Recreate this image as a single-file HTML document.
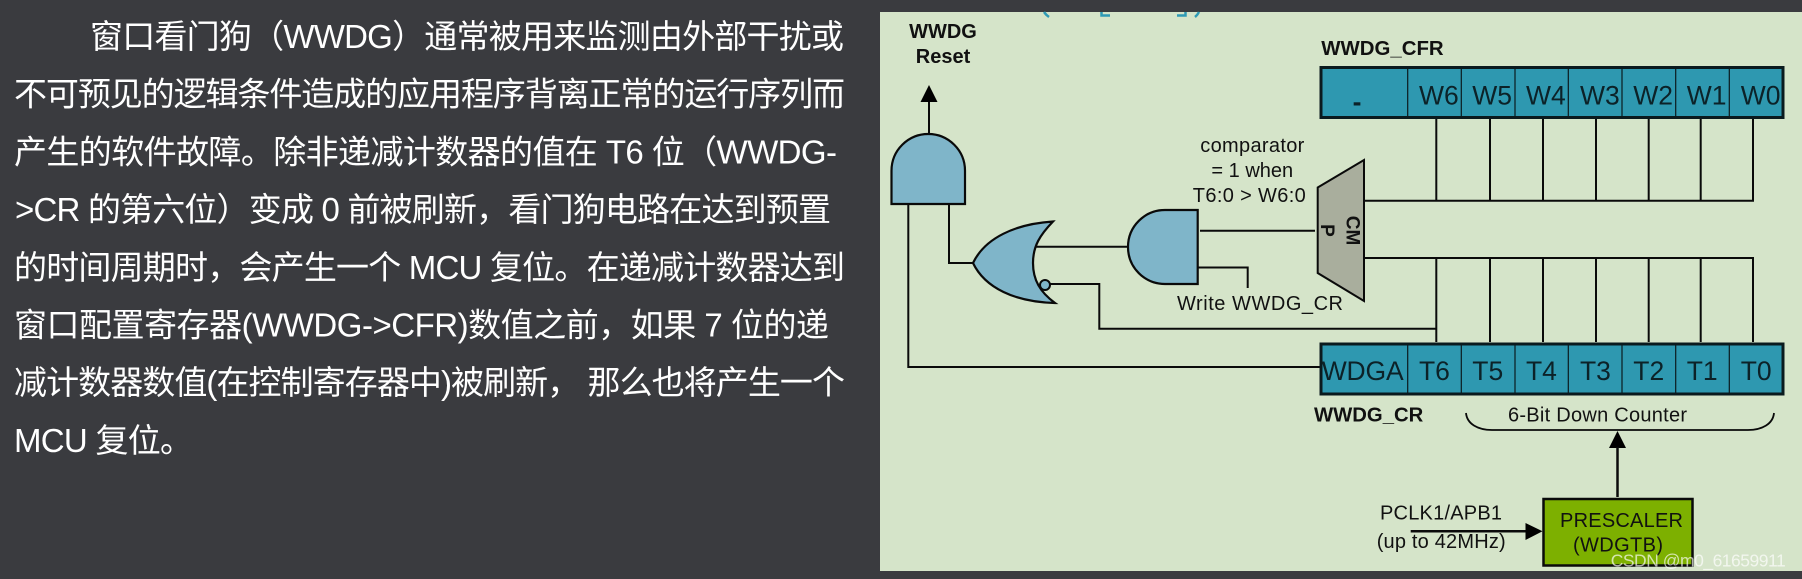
<!DOCTYPE html>
<html lang="zh">
<head>
<meta charset="utf-8">
<title>WWDG</title>
<style>
html,body{margin:0;padding:0;background:#3a3b3f;width:1802px;height:579px;overflow:hidden}
svg{display:block}
text{font-family:"Liberation Sans",sans-serif;fill:#111}
text.cn{font-family:"Liberation Sans","Noto Sans CJK SC",sans-serif;font-size:33px;fill:#fff}
.b{font-weight:bold;font-size:20px}
.n{font-size:20px}
.r{font-size:26.5px;fill:#0c2228}
.l{fill:none;stroke:#0a0a0a;stroke-width:2}
.g{fill:#7fb5c9;stroke:#0a0a0a;stroke-width:2.2}
.d{fill:none;stroke:#0a1a1e;stroke-width:1.2}
</style>
</head>
<body>
<svg width="1802" height="579" viewBox="0 0 1802 579" xmlns="http://www.w3.org/2000/svg">
<rect width="1802" height="579" fill="#3a3b3f"/>
<g>
<text class="cn" x="90" y="48" textLength="754">窗口看门狗（WWDG）通常被用来监测由外部干扰或</text>
<text class="cn" x="14" y="105.7" textLength="831">不可预见的逻辑条件造成的应用程序背离正常的运行序列而</text>
<text class="cn" x="14" y="163.4" textLength="823">产生的软件故障。除非递减计数器的值在 T6 位（WWDG-</text>
<text class="cn" x="15" y="221.1" textLength="816">&gt;CR 的第六位）变成 0 前被刷新，看门狗电路在达到预置</text>
<text class="cn" x="14" y="278.8" textLength="831">的时间周期时，会产生一个 MCU 复位。在递减计数器达到</text>
<text class="cn" x="14" y="336.5" textLength="815">窗口配置寄存器(WWDG-&gt;CFR)数值之前，如果 7 位的递</text>
<text class="cn" x="14" y="394.2" textLength="831">减计数器数值(在控制寄存器中)被刷新， 那么也将产生一个</text>
<text class="cn" x="14" y="452" textLength="179">MCU 复位。</text>
</g>

<rect x="880" y="12" width="922" height="559" fill="#d5e4c9"/>

<!-- clipped title fragments -->
<g fill="none" stroke="#2e9ab5" stroke-width="2.5">
<path d="M1044 12 Q1046 15 1049 17"/>
<path d="M1101.5 12 V15.5 H1110"/>
<path d="M1177 15.5 H1185.5 V12"/>
<path d="M1199 12 Q1197.5 15 1195 17"/>
</g>

<!-- reset -->
<text class="b" x="943" y="38" text-anchor="middle">WWDG</text>
<text class="b" x="943" y="63" text-anchor="middle">Reset</text>
<path d="M929 85 L937.5 102 H920.5 Z" fill="#000"/>
<path class="l" d="M929 102 V134"/>
<path class="g" d="M891.5 204 V170.75 A36.75 36.75 0 0 1 965 170.75 V204 Z"/>
<path class="l" d="M908.3 204 V367 H1320"/>
<path class="l" d="M949 204 V263 H973"/>

<!-- NOR -->
<path class="g" d="M1053 221.5 C1015 224 985 238 973 263 C985 288 1015 302 1055 303 C1040 292 1033 280 1033 263 C1033 246 1040 235 1053 221.5 Z"/>
<circle cx="1045" cy="285" r="5" fill="#7fb5c9" stroke="#0a0a0a" stroke-width="2"/>
<path class="l" d="M1050 284 H1099.3 V328.7 H1436.3"/>
<path class="l" d="M1035 246.7 H1127.5"/>

<!-- AND 2 -->
<path class="g" d="M1197.7 210 H1165 A37 37 0 0 0 1165 284 H1197.7 Z"/>
<path class="l" d="M1200 230.7 H1315"/>
<path class="l" d="M1197.7 267.5 H1247.7 V288"/>

<text class="n" x="1252.3" y="152" text-anchor="middle" textLength="104">comparator</text>
<text class="n" x="1252.3" y="177" text-anchor="middle">= 1 when</text>
<text class="n" x="1249.3" y="202" text-anchor="middle" textLength="113">T6:0 &gt; W6:0</text>
<text class="n" x="1177" y="310" textLength="166">Write WWDG_CR</text>

<!-- comparator -->
<path d="M1317.7 187.5 L1364 160 V301 L1317.7 273 Z" fill="#a9ae9d" stroke="#0a0a0a" stroke-width="2"/>
<text class="b" style="font-size:19px" transform="translate(1346.5 230.5) rotate(90)" text-anchor="middle">CM</text>
<text class="b" style="font-size:19px" transform="translate(1321 230.5) rotate(90)" text-anchor="middle">P</text>

<!-- upper wires -->
<path class="l" d="M1436.3 118 V200.7 M1490 118 V200.7 M1543 118 V200.7 M1596 118 V200.7 M1648.7 118 V200.7 M1700.7 118 V200.7 M1753 118 V200.7 M1364 200.7 H1754"/>
<!-- lower wires -->
<path class="l" d="M1364 258 H1754 M1436.3 258 V342 M1490 258 V342 M1543 258 V342 M1596 258 V342 M1648.7 258 V342 M1700.7 258 V342 M1753 258 V342"/>

<!-- WWDG_CFR -->
<text class="b" style="font-size:20.4px" x="1321.3" y="55">WWDG_CFR</text>
<rect x="1321" y="67.5" width="462" height="50" fill="#2e98b0" stroke="#0a1a1e" stroke-width="3"/>
<path class="d" d="M1407.7 68 V117 M1461.3 68 V117 M1515 68 V117 M1568.3 68 V117 M1622 68 V117 M1675.7 68 V117 M1729.3 68 V117"/>
<text class="r" style="font-weight:bold" x="1357" y="111" text-anchor="middle">-</text>
<text class="r" x="1419" y="104.5">W6</text>
<text class="r" x="1472.3" y="104.5">W5</text>
<text class="r" x="1526" y="104.5">W4</text>
<text class="r" x="1580" y="104.5">W3</text>
<text class="r" x="1633.3" y="104.5">W2</text>
<text class="r" x="1686.7" y="104.5">W1</text>
<text class="r" x="1740.7" y="104.5">W0</text>

<!-- WWDG_CR -->
<rect x="1321" y="344" width="462" height="50" fill="#2e98b0" stroke="#0a1a1e" stroke-width="3"/>
<path class="d" d="M1407.7 345 V393 M1461.3 345 V393 M1515 345 V393 M1568.3 345 V393 M1622 345 V393 M1675.7 345 V393 M1729.3 345 V393"/>
<text class="r" x="1321.7" y="380" textLength="82">WDGA</text>
<text class="r" x="1419" y="380">T6</text>
<text class="r" x="1472.3" y="380">T5</text>
<text class="r" x="1526" y="380">T4</text>
<text class="r" x="1580" y="380">T3</text>
<text class="r" x="1633.3" y="380">T2</text>
<text class="r" x="1686.7" y="380">T1</text>
<text class="r" x="1740.7" y="380">T0</text>

<text class="b" style="font-size:20.3px" x="1314" y="421.5">WWDG_CR</text>
<text class="n" x="1508" y="421.5" textLength="179">6-Bit Down Counter</text>
<path d="M1466 413 C1467 424 1478 430 1492 430 H1748 C1762 430 1773 424 1774 413" fill="none" stroke="#0a0a0a" stroke-width="1.8"/>

<!-- prescaler -->
<path d="M1617.5 431 L1626 448 H1609 Z" fill="#000"/>
<path d="M1617.5 447 V497" fill="none" stroke="#0a0a0a" stroke-width="2.5"/>
<rect x="1543.5" y="499" width="149" height="66.5" fill="#7db000" stroke="#0a0a0a" stroke-width="2.5"/>
<text class="n" x="1560" y="527" textLength="123">PRESCALER</text>
<text class="n" x="1573" y="551.7" textLength="90">(WDGTB)</text>
<text class="n" x="1380" y="519.3" textLength="122">PCLK1/APB1</text>
<text class="n" x="1376.7" y="548" textLength="129">(up to 42MHz)</text>
<path d="M1410.7 531.3 H1527" fill="none" stroke="#0a0a0a" stroke-width="2.5"/>
<path d="M1542.5 531.3 L1525.5 523 V540 Z" fill="#000"/>

<text x="1610.7" y="566.5" textLength="175" style="font-size:17.5px;fill:rgba(255,255,255,.68)">CSDN @m0_61659911</text>
</svg>
</body>
</html>
